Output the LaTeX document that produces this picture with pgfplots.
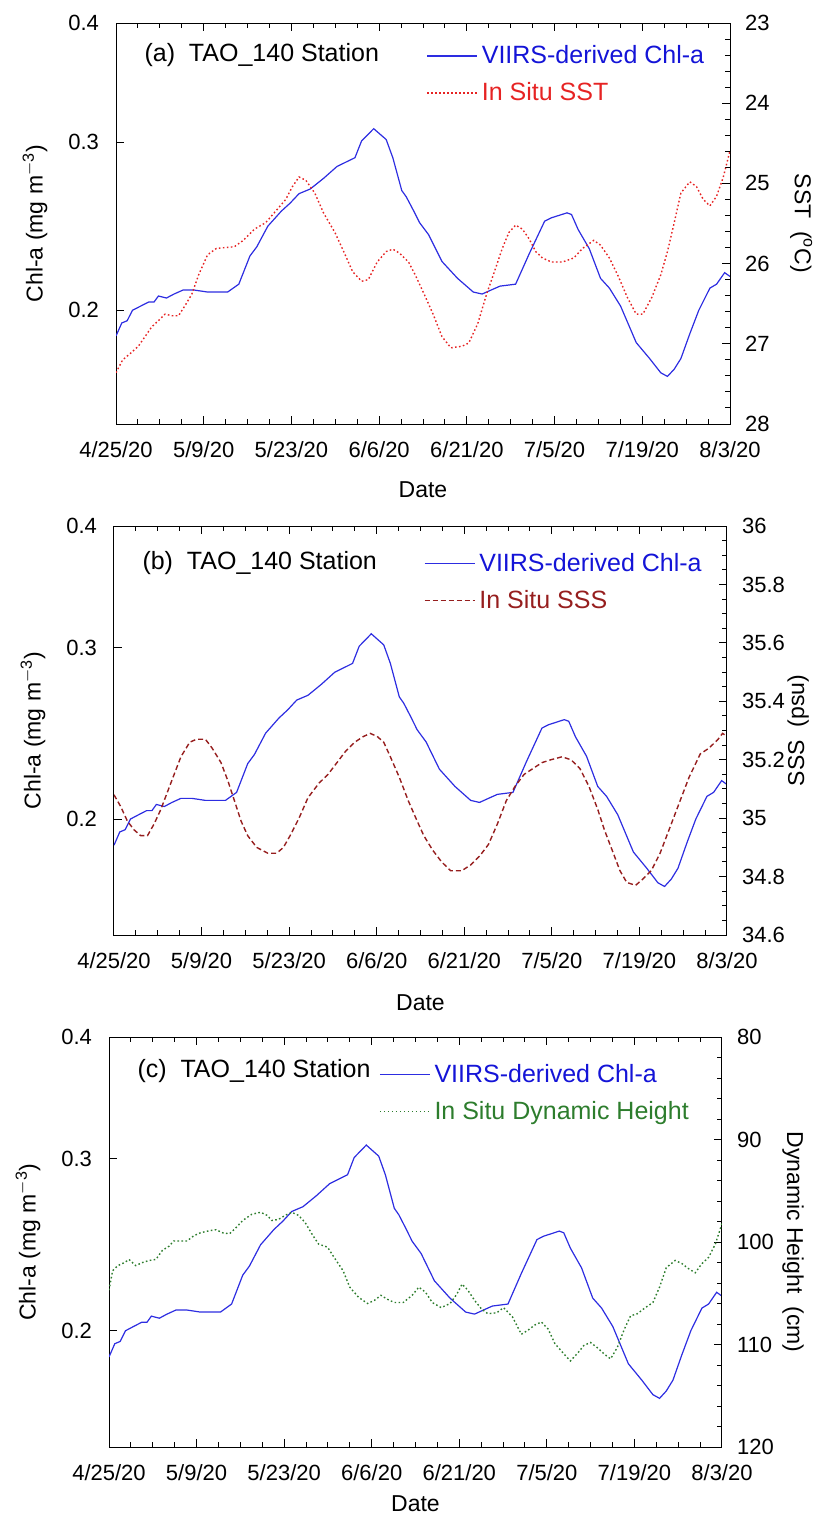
\documentclass[border=0pt]{standalone}
\usepackage{pgfplots}
\pgfplotsset{compat=1.18}
\usepackage{pgfplotstable}
\usepackage{fontspec}
\setmainfont{Liberation Sans}

\definecolor{chlline}{RGB}{45,45,225}
\definecolor{chltext}{RGB}{20,20,215}
\definecolor{sstred}{RGB}{230,35,35}
\definecolor{sssred}{RGB}{150,30,30}
\definecolor{dhgreen}{RGB}{45,125,45}

% x in units of 1/7 of the record (tick spacing), 4/25/20 = 0, 8/3/20 = 7
\pgfplotstableread{
x y
0.000 0.188
0.066 0.194
0.127 0.195
0.188 0.200
0.280 0.202
0.372 0.204
0.433 0.204
0.484 0.207
0.575 0.206
0.662 0.208
0.764 0.210
0.891 0.210
1.044 0.209
1.196 0.209
1.273 0.209
1.400 0.213
1.527 0.228
1.604 0.233
1.731 0.245
1.884 0.254
1.985 0.259
2.087 0.265
2.215 0.268
2.367 0.275
2.520 0.283
2.724 0.289
2.800 0.301
2.938 0.310
3.080 0.302
3.156 0.289
3.258 0.267
3.309 0.263
3.386 0.255
3.462 0.247
3.564 0.240
3.716 0.225
3.894 0.216
4.073 0.209
4.174 0.208
4.276 0.210
4.378 0.212
4.556 0.213
4.709 0.229
4.887 0.248
4.964 0.250
5.142 0.253
5.193 0.252
5.269 0.243
5.396 0.232
5.524 0.216
5.625 0.211
5.753 0.202
5.931 0.185
6.084 0.178
6.211 0.172
6.287 0.1705
6.364 0.1735
6.440 0.178
6.542 0.189
6.644 0.200
6.771 0.211
6.847 0.213
6.939 0.219
7.000 0.217
}\chl

\pgfplotstableread{
x y
0.000 27.36
0.076 27.20
0.153 27.13
0.255 27.03
0.331 26.91
0.407 26.79
0.484 26.71
0.560 26.63
0.636 26.65
0.713 26.65
0.789 26.52
0.865 26.38
0.942 26.14
1.044 25.89
1.145 25.81
1.247 25.80
1.349 25.79
1.451 25.71
1.578 25.57
1.706 25.49
1.833 25.33
1.935 25.20
2.011 25.04
2.087 24.92
2.164 24.96
2.266 25.12
2.367 25.37
2.495 25.61
2.596 25.85
2.698 26.10
2.800 26.22
2.876 26.20
2.978 25.98
3.080 25.85
3.156 25.82
3.233 25.87
3.335 25.98
3.411 26.14
3.513 26.38
3.615 26.63
3.716 26.91
3.818 27.05
3.946 27.03
4.022 26.99
4.124 26.75
4.225 26.38
4.327 26.06
4.404 25.81
4.480 25.61
4.556 25.52
4.633 25.57
4.709 25.69
4.785 25.85
4.862 25.93
4.964 25.98
5.091 25.98
5.218 25.93
5.320 25.81
5.447 25.71
5.524 25.77
5.625 25.93
5.727 26.16
5.829 26.42
5.931 26.63
6.007 26.63
6.109 26.42
6.211 26.14
6.287 25.85
6.364 25.49
6.440 25.12
6.542 24.98
6.618 25.04
6.695 25.20
6.771 25.28
6.847 25.16
6.924 24.92
7.000 24.59
}\sst

\pgfplotstableread{
x y
0.000 35.08
0.076 35.04
0.153 34.99
0.229 34.96
0.305 34.94
0.382 34.94
0.458 34.98
0.535 35.03
0.611 35.09
0.687 35.15
0.764 35.21
0.865 35.26
0.942 35.27
1.044 35.27
1.120 35.24
1.222 35.19
1.298 35.13
1.375 35.06
1.451 34.99
1.527 34.94
1.629 34.90
1.756 34.88
1.858 34.88
1.935 34.90
2.011 34.94
2.113 35.00
2.215 35.07
2.342 35.12
2.444 35.15
2.546 35.19
2.647 35.23
2.749 35.26
2.851 35.28
2.927 35.29
3.004 35.28
3.080 35.26
3.156 35.21
3.258 35.14
3.360 35.06
3.462 34.99
3.538 34.94
3.640 34.89
3.742 34.85
3.844 34.82
3.971 34.82
4.073 34.84
4.175 34.87
4.276 34.91
4.378 34.98
4.480 35.06
4.582 35.11
4.684 35.15
4.785 35.17
4.887 35.19
4.989 35.20
5.116 35.21
5.218 35.20
5.320 35.17
5.422 35.11
5.524 35.03
5.600 34.96
5.702 34.88
5.778 34.82
5.855 34.78
5.956 34.77
6.033 34.79
6.135 34.82
6.236 34.88
6.338 34.96
6.465 35.06
6.567 35.14
6.695 35.22
6.796 35.24
6.898 35.27
6.949 35.29
7.000 35.28
}\sss

\pgfplotstableread{
x y
0.000 104.7
0.041 102.8
0.102 102.3
0.178 102.0
0.229 101.7
0.305 102.3
0.382 102.0
0.458 101.8
0.535 101.7
0.611 100.8
0.687 100.4
0.738 99.9
0.815 99.9
0.891 99.9
0.967 99.4
1.044 99.1
1.145 98.9
1.222 98.8
1.298 99.1
1.375 99.2
1.451 98.6
1.527 97.9
1.629 97.3
1.731 97.1
1.807 97.4
1.858 97.9
1.935 97.8
2.011 97.4
2.087 97.1
2.164 97.4
2.240 98.1
2.316 99.2
2.393 100.2
2.495 100.5
2.571 101.5
2.673 102.8
2.749 104.4
2.851 105.4
2.953 106.0
3.029 105.7
3.105 105.2
3.182 105.6
3.258 105.9
3.360 105.9
3.462 105.2
3.538 104.4
3.615 104.9
3.691 105.9
3.793 106.4
3.895 106.0
3.971 105.1
4.032 104.1
4.098 104.7
4.175 105.7
4.251 106.5
4.327 107.0
4.429 106.9
4.505 106.4
4.607 107.3
4.709 109.0
4.785 108.6
4.862 108.1
4.938 107.8
5.015 108.5
5.091 109.9
5.193 110.9
5.269 111.6
5.346 110.9
5.422 110.1
5.498 109.8
5.575 110.3
5.651 110.9
5.727 111.4
5.804 110.3
5.880 108.6
5.956 107.2
6.033 107.0
6.109 106.5
6.211 105.9
6.287 104.4
6.364 102.5
6.465 101.8
6.542 102.1
6.618 102.6
6.695 103.0
6.771 102.1
6.847 101.5
6.924 100.2
7.000 98.2
}\dyn

\pgfplotsset{
  tao base/.style={
    scale only axis, xmin=0, xmax=7,
    tick align=inside, major tick length=4pt, minor tick length=2.5pt,
    axis line style={line width=0.5pt},
    every tick/.style={black, line width=0.5pt},
    tick label style={font=\fontsize{11}{13}\selectfont},
    label style={font=\fontsize{11.5}{14}\selectfont},
    /pgf/number format/assume math mode=true,
  },
  tao left/.style={
    tao base,
    ymin=0.152, ymax=0.4,
    ytick={0.2,0.3,0.4}, yticklabels={0.2,0.3,0.4},
    yminorticks=false, ytick pos=left,
    xtick={0,...,7},
    xticklabels={4/25/20,5/9/20,5/23/20,6/6/20,6/21/20,7/5/20,7/19/20,8/3/20},
    minor x tick num=3, xtick pos=both,
    xticklabel style={yshift=-5pt},
    yticklabel style={xshift=-5pt},
    xlabel={Date},
    ylabel={Chl-a (mg m\textsuperscript{$-$3})},
    xlabel style={at={(axis description cs:0.5,-0.165)}, anchor=center},
    ylabel style={at={(axis description cs:-0.132,0.5)}, anchor=center},
  },
  tao right/.style={
    tao base,
    axis x line=none, axis y line*=right, ytick pos=right,
    yticklabel style={xshift=4pt},
    ylabel style={at={(axis description cs:1.116,0.5)}, anchor=center},
    legend style={draw=none, fill=none, anchor=north west, inner sep=0pt,
      font=\fontsize{12.5}{15}\selectfont, row sep=4pt,
      cells={anchor=west}},
    legend image code/.code={\draw[##1] (0pt,0pt) -- (25pt,0pt);},
  },
  chlplot/.style={chlline, line width=0.6pt},
}
\tikzset{ttl/.style={anchor=west, font=\fontsize{12.5}{15}\selectfont}}

\begin{document}
\begin{tikzpicture}
\path[use as bounding box] (0,0) rectangle (408pt,-758.5pt);

% ---- (a) SST
\begin{axis}[tao left, ymode=log, at={(58pt,-11.5pt)}, anchor=north west,
  width=307pt, height=200.5pt]
\addplot[chlplot] table {\chl};
\node[ttl] at (rel axis cs:0.035,0.92) {(a)\ \ TAO\_140 Station};
\end{axis}
\begin{axis}[tao right, y dir=reverse, at={(58pt,-11.5pt)}, anchor=north west,
  width=307pt, height=200.5pt,
  ymin=23, ymax=28, ytick={23,...,28}, minor y tick num=4,
  ylabel={SST\ \ (\textsuperscript{o}C)}, ylabel style={rotate=180},
  legend style={at={(rel axis cs:0.505,0.955)}}]
\addlegendimage{chlplot}
\addlegendentry{\textcolor{chltext}{VIIRS-derived Chl-a}}
\addplot[sstred, line width=0.7pt, dash pattern=on 0.8pt off 1.2pt] table {\sst};
\addlegendentry{\textcolor{sstred}{In Situ SST}}
\end{axis}

% ---- (b) SSS
\begin{axis}[tao left, ymode=log, at={(57pt,-263pt)}, anchor=north west,
  width=306.5pt, height=204.5pt]
\addplot[chlplot] table {\chl};
\node[ttl] at (rel axis cs:0.035,0.91) {(b)\ \ TAO\_140 Station};
\end{axis}
\begin{axis}[tao right, at={(57pt,-263pt)}, anchor=north west,
  width=306.5pt, height=204.5pt,
  ymin=34.6, ymax=36, ytick={34.6,34.8,35,35.2,35.4,35.6,35.8,36},
  minor y tick num=3,
  ylabel={SSS\ \ (psu)},
  legend style={at={(rel axis cs:0.505,0.945)}}]
\addlegendimage{chlplot}
\addlegendentry{\textcolor{chltext}{VIIRS-derived Chl-a}}
\addplot[sssred, line width=0.7pt, dash pattern=on 2.5pt off 1.5pt] table {\sss};
\addlegendentry{\textcolor{sssred}{In Situ SSS}}
\end{axis}

% ---- (c) dynamic height
\begin{axis}[tao left, ymode=log, at={(54.5pt,-518.5pt)}, anchor=north west,
  width=306.5pt, height=205pt,
  xlabel style={at={(axis description cs:0.5,-0.138)}}]
\addplot[chlplot] table {\chl};
\node[ttl] at (rel axis cs:0.035,0.917) {(c)\ \ TAO\_140 Station};
\end{axis}
\begin{axis}[tao right, y dir=reverse, at={(54.5pt,-518.5pt)}, anchor=north west,
  width=306.5pt, height=205pt,
  ymin=80, ymax=120, ytick={80,90,...,120}, minor y tick num=4,
  ylabel={Dynamic Height\ \ (cm)}, ylabel style={rotate=180},
  legend style={at={(rel axis cs:0.44,0.945)}}]
\addlegendimage{chlplot}
\addlegendentry{\textcolor{chltext}{VIIRS-derived Chl-a}}
\addplot[dhgreen, line width=0.7pt, dash pattern=on 0.8pt off 1.2pt] table {\dyn};
\addlegendentry{\textcolor{dhgreen}{In Situ Dynamic Height}}
\end{axis}
\end{tikzpicture}
\end{document}
